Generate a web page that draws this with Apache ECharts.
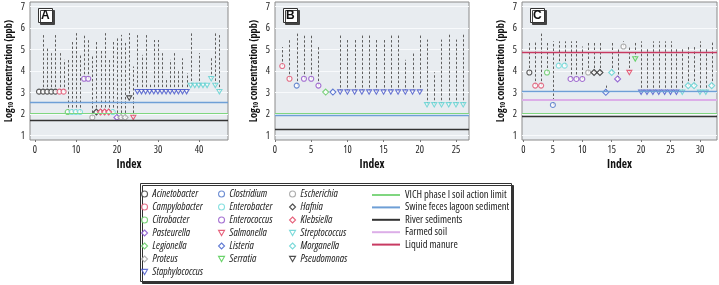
<!DOCTYPE html>
<html><head><meta charset="utf-8">
<script src="https://cdn.jsdelivr.net/npm/echarts@6/dist/echarts.min.js"></script>
<style>html,body{margin:0;padding:0;background:#fff}#c{width:719px;height:285px}</style>
</head><body><div id="c"></div>
<script>
// ---- tick labels ----
const yTicks = [1, 2, 3, 4, 5, 6, 7];
const xTicksA = [0, 10, 20, 30, 40];
const xTicksB = [0, 5, 10, 15, 20, 25];
const xTicksC = [0, 5, 10, 15, 20, 25, 30];
const panelLabels = ['A', 'B', 'C'];

// ---- species (legend order, column-wise) ----
const speciesCodes = ['Aci','Cam','Cit','Pas','Leg','Pro','Sta','Clo','Ebt','Ecc','Sal','Lis','Ser','Esc','Haf','Kle','Str','Mor','Pse'];
const speciesNames = ['Acinetobacter','Campylobacter','Citrobacter','Pasteurella','Legionella','Proteus','Staphylococcus',
  'Clostridium','Enterobacter','Enterococcus','Salmonella','Listeria','Serratia',
  'Escherichia','Hafnia','Klebsiella','Streptococcus','Morganella','Pseudomonas'];

// ---- panel A ----
const A_index = [1,2,3,4,5,6,7,8,9,10,11,12,13,14,15,16,17,18,19,20,21,22,23,24,25,26,27,28,29,30,31,32,33,34,35,36,37,38,39,40,41,42,43,44,45];
const A_species = ['Aci','Aci','Aci','Aci','Aci','Cam','Cam','Cit','Ebt','Ebt','Ebt','Ecc','Ecc','Esc','Haf','Kle','Kle','Kle','Ebt','Pas','Pro','Pro','Pse','Sal',
  'Sta','Sta','Sta','Sta','Sta','Sta','Sta','Sta','Sta','Sta','Sta','Sta','Sta','Str','Str','Str','Str','Str','Str','Str','Str'];
const A_low = [3.05,3.05,3.05,3.05,3.05,3.05,3.05,2.1,2.1,2.1,2.1,3.65,3.65,1.85,2.1,2.1,2.1,2.1,2.1,1.85,1.85,1.85,2.75,1.85,
  3.05,3.05,3.05,3.05,3.05,3.05,3.05,3.05,3.05,3.05,3.05,3.05,3.05,3.34,3.34,3.34,3.34,3.34,3.65,3.34,3.05];
const A_high = [3.05,5.77,5.07,4.84,5.69,4.84,4.53,4.53,5.38,5.77,4.76,5.69,5.45,4.76,5.38,5.0,5.77,4.53,5.38,5.6,5.69,5.38,5.77,4.22,
  5.69,4.76,5.69,3.37,5.45,5.45,4.84,3.68,4.53,4.84,4.0,4.6,3.91,5.77,3.34,4.84,3.34,3.34,4.68,5.77,5.69];

// ---- panel B ----
const B_index = [1,2,3,4,5,6,7,8,9,10,11,12,13,14,15,16,17,18,19,20,21,22,23,24,25,26];
const B_species = ['Cam','Cam','Clo','Ecc','Ecc','Ecc','Leg','Lis','Sta','Sta','Sta','Sta','Sta','Sta','Sta','Sta','Sta','Sta','Sta','Sta','Str','Str','Str','Str','Str','Str'];
const B_low = [4.24,3.65,3.33,3.65,3.65,3.33,3.03,3.03,3.03,3.03,3.03,3.03,3.03,3.03,3.03,3.03,3.03,3.03,3.03,3.03,2.44,2.44,2.44,2.44,2.44,2.44];
const B_high = [5.12,5.47,5.78,5.7,5.7,5.12,3.03,3.03,5.7,5.47,5.47,5.7,5.7,5.47,5.47,5.7,5.7,4.53,4.87,5.7,5.47,3.95,5.47,5.7,5.47,5.7];

// ---- panel C ----
const C_index = [1,2,3,4,5,6,7,8,9,10,11,12,13,14,15,16,17,18,19,20,21,22,23,24,25,26,27,28,29,30,31,32];
const C_species = ['Aci','Cam','Cam','Cit','Clo','Ebt','Ebt','Ecc','Ecc','Ecc','Esc','Haf','Haf','Lis','Mor','Pas','Esc','Sal','Ser',
  'Sta','Sta','Sta','Sta','Sta','Sta','Sta','Str','Mor','Mor','Str','Str','Mor'];
const C_low = [3.94,3.33,3.33,3.94,2.43,4.26,4.26,3.64,3.64,3.64,3.94,3.94,3.94,3.02,3.94,3.64,5.15,3.94,4.57,
  3.02,3.02,3.02,3.02,3.02,3.02,3.02,3.02,3.33,3.33,3.02,3.02,3.33];
const C_high = [5.39,5.39,5.78,5.39,5.39,5.39,5.39,5.39,5.4,5.15,5.39,5.39,5.39,3.33,5.39,5.08,5.39,5.1,5.39,
  5.39,5.08,5.39,5.39,5.39,5.39,5.08,5.08,5.15,5.15,5.39,5.08,5.39];

// ---- reference levels ----
const refNames = ['VICH phase I soil action limit','Swine feces lagoon sediment','River sediments','Farmed soil','Liquid manure'];
const refA = [2.05, 2.55, 1.74, null, null];
const refB = [2.05, 1.93, 1.31, null, null];
const refC = [2.05, 3.07, 1.90, 2.69, 4.87];

// ---- pick the narrowest available sans face (reference uses a condensed face) ----
const fontPick = (function () {
  const ctx = document.createElement('canvas').getContext('2d');
  const cands = [['condensed', "'Noto Sans'"], ['normal', "'Roboto Condensed'"], ['normal', "'Liberation Sans Narrow'"],
    ['normal', "'DejaVu Sans Condensed'"], ['condensed', "'Open Sans'"], ['condensed', 'Roboto'],
    ['condensed', "'DejaVu Sans'"], ['normal', "'Liberation Sans'"]];
  const probe = 'VICH phase I soil action limit';
  let best = null;
  cands.forEach(c => {
    ctx.font = (c[0] === 'condensed' ? 'condensed ' : '') + '10px ' + c[1];
    const w = ctx.measureText(probe).width;
    if (!best || w < best.w - 0.5) best = {stretch: c[0], family: c[1], w: w};
  });
  ctx.font = 'bold ' + (best.stretch === 'condensed' ? 'condensed ' : '') + '11px ' + best.family;
  const wName = ctx.measureText('Log10 concentration (ppb)').width;
  return {
    family: best.family + ", sans-serif",
    reg: best.stretch === 'condensed' ? 'condensed' : 'normal',
    bold: best.stretch === 'condensed' ? 'bold condensed' : 'bold',
    legendSize: Math.max(7, Math.min(10.5, 10 * 104 / best.w)),
    nameSize: Math.max(8, Math.min(11.5, 11 * 106 / wName))
  };
})();
const FONT = fontPick.family;

// ---- styles ----
const speciesStyle = {
  Aci:['#333333','circle'], Cam:['#e0506e','circle'], Cit:['#5cc85c','circle'], Pas:['#8048cc','diamond'],
  Leg:['#5cc85c','diamond'], Pro:['#a0a0a0','diamond'], Sta:['#4050c8','tri'], Clo:['#4a72c8','circle'],
  Ebt:['#6ad8d8','circle'], Ecc:['#9050c8','circle'], Sal:['#e03a5a','tri'], Lis:['#3a5ac8','diamond'],
  Ser:['#46c846','tri'], Esc:['#9a9a9a','circle'], Haf:['#222222','diamond'], Kle:['#e03a5a','diamond'],
  Str:['#5ad0d0','tri'], Mor:['#5ad0d0','diamond'], Pse:['#222222','tri']
};
const DOWN_TRI = 'path://M0,0L10,0L5,8.66Z';
const refColors = ['#80d680','#6e9fd6','#333333','#dcaee8','#c83a62'];
const refWidths = [1.2, 1.3, 1.3, 2, 1.3];

const grids = [
  {left:30, top:2, width:198, height:138},
  {left:275, top:2, width:194, height:138},
  {left:522, top:2, width:195, height:138}
];
const xRanges = [[-1.2, 47.1], [0, 26.8], [-0.25, 32.9]];
const xTickSets = [xTicksA, xTicksB, xTicksC];
const panels = [
  {idx:A_index, sp:A_species, low:A_low, high:A_high, ref:refA},
  {idx:B_index, sp:B_species, low:B_low, high:B_high, ref:refB},
  {idx:C_index, sp:C_species, low:C_low, high:C_high, ref:refC}
];

function renderDash(params, api) {
  const lo = api.value(1), hi = api.value(2);
  if (!(hi > lo + 0.01)) return null;
  const p1 = api.coord([api.value(0), lo]);
  const p2 = api.coord([api.value(0), hi]);
  return {type:'line', shape:{x1:Math.round(p1[0])+0.5, y1:p1[1], x2:Math.round(p2[0])+0.5, y2:p2[1]},
    style:{stroke:'#5e5e5e', lineWidth:1, lineDash:[2.5,2]}};
}

function symOf(code) {
  const st = speciesStyle[code];
  return {symbol: st[1] === 'tri' ? DOWN_TRI : st[1], symbolKeepAspect: true,
    symbolSize: st[1] === 'diamond' ? 6 : 5,
    itemStyle: {color:'#ffffff', borderColor:st[0], borderWidth:1.1}};
}

const series = [];
const usedSpecies = new Set();
panels.forEach((p, g) => {
  p.ref.forEach((v, k) => {
    if (v == null) return;
    series.push({type:'line', name:refNames[k], xAxisIndex:g, yAxisIndex:g, data:[], z:2,
      itemStyle:{color:refColors[k]}, lineStyle:{color:refColors[k]},
      markLine:{silent:true, symbol:'none', animation:false, label:{show:false},
        lineStyle:{color:refColors[k], width:refWidths[k], type:'solid'}, data:[{yAxis:v}]}});
  });
  series.push({type:'custom', xAxisIndex:g, yAxisIndex:g, silent:true, z:3,
    data:p.idx.map((x, i) => [x, p.low[i], p.high[i]]), renderItem:renderDash,
    encode:{x:0, y:[1,2]}});
  speciesCodes.forEach((code, s) => {
    const pts = [];
    p.idx.forEach((x, i) => { if (p.sp[i] === code) pts.push([x, p.low[i]]); });
    if (!pts.length) return;
    usedSpecies.add(code);
    series.push(Object.assign({type:'scatter', name:speciesNames[s], xAxisIndex:g, yAxisIndex:g, data:pts, z:4}, symOf(code)));
  });
});
speciesCodes.forEach((code, s) => {
  if (usedSpecies.has(code)) return;
  series.push(Object.assign({type:'scatter', name:speciesNames[s], xAxisIndex:0, yAxisIndex:0, data:[]}, symOf(code)));
});

const xAxes = grids.map((gr, g) => ({
  gridIndex:g, type:'value', min:xRanges[g][0], max:xRanges[g][1],
  axisLine:{show:false}, splitLine:{show:false},
  axisTick:{show:true, customValues:xTickSets[g], length:2, lineStyle:{color:'#777'}},
  axisLabel:{customValues:xTickSets[g], fontSize:10, color:'#222', margin:5, fontFamily:FONT, fontWeight:fontPick.reg},
  name:'Index', nameLocation:'middle', nameGap:19,
  nameTextStyle:{fontSize:11.5, fontWeight:fontPick.bold, color:'#111', fontFamily:FONT}
}));
const yAxes = grids.map((gr, g) => ({
  gridIndex:g, type:'value', min:0.8, max:7.22,
  axisLine:{show:false},
  axisTick:{show:false, customValues:yTicks},
  axisLabel:{customValues:yTicks, fontSize:10, color:'#222', margin:5, fontFamily:FONT, fontWeight:fontPick.reg},
  splitLine:{show:true, lineStyle:{color:'#f8fafc', width:1}},
  name:'{a|Log}{s|10}{a| concentration (ppb)}', nameLocation:'middle', nameGap:15, nameRotate:90,
  nameTextStyle:{color:'#111', fontFamily:FONT,
    rich:{a:{fontSize:fontPick.nameSize, fontWeight:fontPick.bold, fontFamily:FONT, color:'#111'},
          s:{fontSize:fontPick.nameSize*0.65, fontWeight:fontPick.bold, fontFamily:FONT, color:'#111', padding:[5,0,0,0]}}}
}));

const titles = panelLabels.map((t, g) => ({
  text:t, left:grids[g].left + 8, top:8, padding:[1,3,0,3],
  backgroundColor:'#fff', borderColor:'#333', borderWidth:1,
  shadowColor:'#444', shadowOffsetX:2, shadowOffsetY:2, shadowBlur:0,
  textStyle:{fontSize:12, fontWeight:'bold', color:'#111', fontFamily:"'Liberation Sans','Arial',sans-serif", lineHeight:14}
}));

const LS = fontPick.legendSize;
const speciesLegendData = speciesNames.map((n, s) => {
  const sy = symOf(speciesCodes[s]);
  return {name:n, icon:sy.symbol, itemStyle:sy.itemStyle};
});
const legendBase = {orient:'vertical', padding:0, itemWidth:6, itemHeight:6, itemGap:1, selectedMode:false,
  textStyle:{fontSize:LS, fontStyle:'italic', fontWeight:fontPick.reg, color:'#222', fontFamily:FONT, lineHeight:12}};
const legends = [
  Object.assign({}, legendBase, {left:141, top:188, data:speciesLegendData.slice(0,7)}),
  Object.assign({}, legendBase, {left:218, top:188, data:speciesLegendData.slice(7,13)}),
  Object.assign({}, legendBase, {left:289, top:188, data:speciesLegendData.slice(13,19)}),
  {orient:'vertical', padding:0, left:372, top:189, itemWidth:28, itemHeight:2, itemGap:0.4, selectedMode:false,
   textStyle:{fontSize:LS, fontWeight:fontPick.reg, color:'#222', fontFamily:FONT, lineHeight:12},
   data:refNames.map(n => ({name:n, icon:'rect'}))}
];

const option = {
  animation:false,
  backgroundColor:'#fff',
  title:titles,
  grid:grids.map(g => Object.assign({show:true, backgroundColor:'#e8ecf0', borderColor:'#8a8a8a', borderWidth:1}, g)),
  xAxis:xAxes,
  yAxis:yAxes,
  legend:legends,
  graphic:[{type:'rect', z:-1, shape:{x:140.5, y:183.5, width:371, height:98},
    style:{fill:'#fff', stroke:'#333', lineWidth:1, shadowColor:'#333', shadowOffsetX:2, shadowOffsetY:2, shadowBlur:0}}],
  series:series
};
const chart = echarts.init(document.getElementById('c'), null, {renderer:'canvas'});
chart.setOption(option);
</script></body></html>
